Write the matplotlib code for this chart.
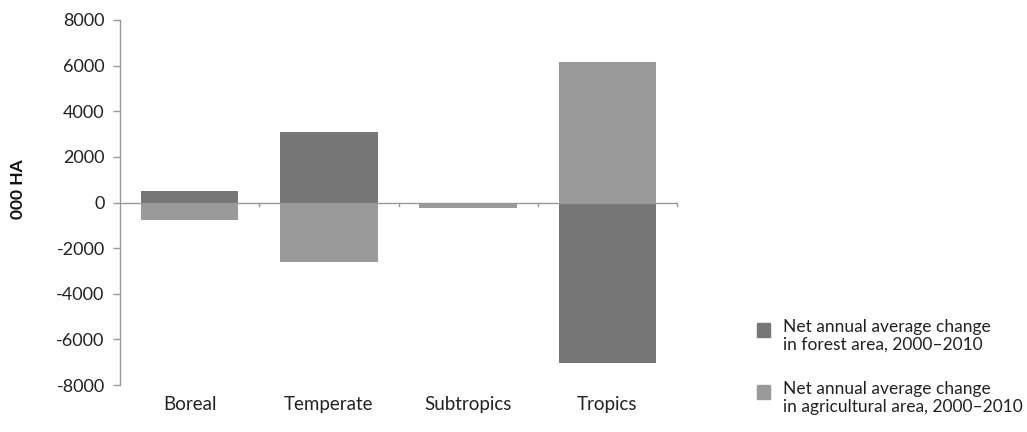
import matplotlib
matplotlib.use("Agg")
import matplotlib.pyplot as plt
from matplotlib.patches import Rectangle
import numpy as np

categories = ["Boreal", "Temperate", "Subtropics", "Tropics"]
forest_change = [500, 3100, 0, -7050]
agri_change = [-760, -2600, -250, 6150]
yticks = [-8000, -6000, -4000, -2000, 0, 2000, 4000, 6000, 8000]
legend_labels = ["Net annual average change\nin forest area, 2000\u20132010",
                 "Net annual average change\nin agricultural area, 2000\u20132010"]

plt.rcParams['font.family'] = ['Lato', 'DejaVu Sans']
plt.rcParams['axes.unicode_minus'] = False

W, H = 1027, 432
fig = plt.figure(figsize=(W/100, H/100), dpi=100)
ax = fig.add_axes([120/W, 1-385/H, (677-120)/W, (385-20)/H])

c_forest = "#767676"
c_agri = "#9a9a9a"
x = np.arange(len(categories))
ax.bar(x, forest_change, width=0.7, color=c_forest, zorder=2)
ax.bar(x, agri_change, width=0.7, color=c_agri, zorder=3)

ax.set_xlim(-0.5, len(categories) - 0.5)
ax.set_ylim(-8000, 8000)
ax.set_yticks(yticks)
ax.set_yticklabels([str(v) for v in yticks], fontsize=13, color="#222222")
ax.set_xticks([])

for s in ["top", "right", "bottom"]:
    ax.spines[s].set_visible(False)
ax.spines["left"].set_color("#999999")
ax.spines["left"].set_linewidth(1.0)
ax.tick_params(axis="y", length=5, color="#999999", width=1, pad=6)

# zero line with small ticks at category boundaries
ax.axhline(0, color="#999999", lw=1.0, zorder=4)
for b in np.arange(0.5, len(categories), 1.0):
    ax.plot([b, b], [0, -150], color="#999999", lw=1.0, zorder=4, clip_on=False)

for xi, name in zip(x, categories):
    ax.text(xi, -8850, name, ha="center", va="center", fontsize=13.5, color="#222222")

ax.set_ylabel("000 HA", fontsize=12.5, fontweight="bold", color="#111111")
ax.yaxis.set_label_coords((26 - 120) / 557, (385 - 189) / 365)

# legend drawn manually
for i, (lab, col) in enumerate(zip(legend_labels, [c_forest, c_agri])):
    ytop = 323 + i * 62
    fig.add_artist(Rectangle((757/W, 1-(ytop+14)/H), 13/W, 14/H,
                             transform=fig.transFigure, color=col))
    fig.text(783/W, 1-(ytop-4)/H, lab, ha="left", va="top", fontsize=12.5,
             color="#222222", linespacing=1.15)

fig.savefig("out.png", dpi=100)
